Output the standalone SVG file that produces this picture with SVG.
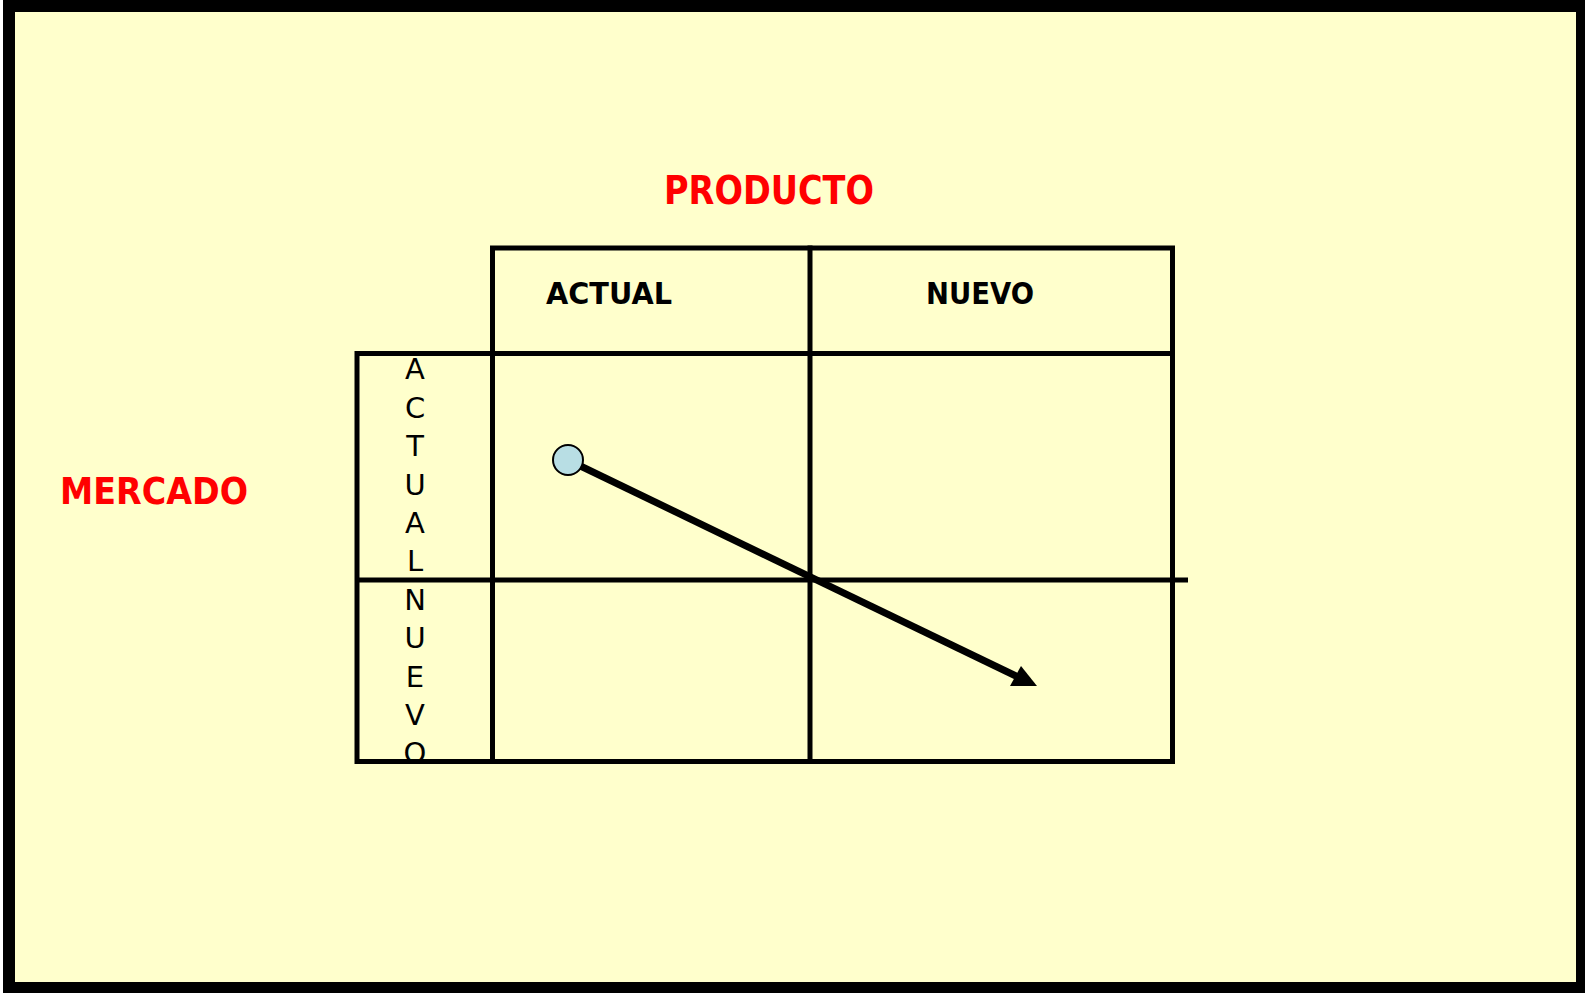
<svg xmlns="http://www.w3.org/2000/svg" width="1585" height="993" viewBox="0 0 1585 993">
<style>
.grid{stroke:#000;stroke-width:5;fill:none;stroke-linecap:square}
.red{font-family:"DejaVu Sans","Liberation Sans",sans-serif;font-weight:bold;fill:#FF0000}
.hdr{font-family:"DejaVu Sans","Liberation Sans",sans-serif;font-weight:bold;fill:#000;font-size:30px}
.vl{font-family:"DejaVu Sans","Liberation Sans",sans-serif;fill:#000;font-size:29px;text-anchor:middle}
</style>
<rect x="9" y="6" width="1573" height="982" fill="#FFFFCC" stroke="#000" stroke-width="12"/>
<g id="producto"><text class="red" x="664" y="204" font-size="39" textLength="210" lengthAdjust="spacingAndGlyphs">PRODUCTO</text></g>
<g id="mercado"><text class="red" x="60" y="504" font-size="37" textLength="188" lengthAdjust="spacingAndGlyphs">MERCADO</text></g>
<g id="col-actual"><text class="hdr" x="546" y="304" textLength="126" lengthAdjust="spacingAndGlyphs">ACTUAL</text></g>
<g id="col-nuevo"><text class="hdr" x="926" y="304" textLength="108" lengthAdjust="spacingAndGlyphs">NUEVO</text></g>
<g id="row-labels">
<text class="vl" x="415" y="379">A</text>
<text class="vl" x="415" y="417.5">C</text>
<text class="vl" x="415" y="456">T</text>
<text class="vl" x="415" y="494.5">U</text>
<text class="vl" x="415" y="533">A</text>
<text class="vl" x="415" y="571">L</text>
<text class="vl" x="415" y="609.5">N</text>
<text class="vl" x="415" y="648">U</text>
<text class="vl" x="415" y="686.5">E</text>
<text class="vl" x="415" y="725">V</text>
<text class="vl" x="415" y="763">O</text>
</g>
<g id="grid" class="grid">
<polyline points="492.5,761.5 492.5,248 1172.5,248 1172.5,761.5 357,761.5 357,353.5 1172.5,353.5"/>
<line x1="810" y1="248" x2="810" y2="761.5"/>
<line x1="357" y1="580" x2="1188" y2="580" stroke-linecap="butt"/>
</g>
<g id="connectors">
<line x1="568" y1="460" x2="1018" y2="677" stroke="#000" stroke-width="7"/>
<polygon points="1037,686 1010,686 1021,666" fill="#000"/>
</g>
<g id="start-point"><circle cx="568" cy="460" r="15" fill="#B8DEE4" stroke="#000" stroke-width="2"/></g>
</svg>
